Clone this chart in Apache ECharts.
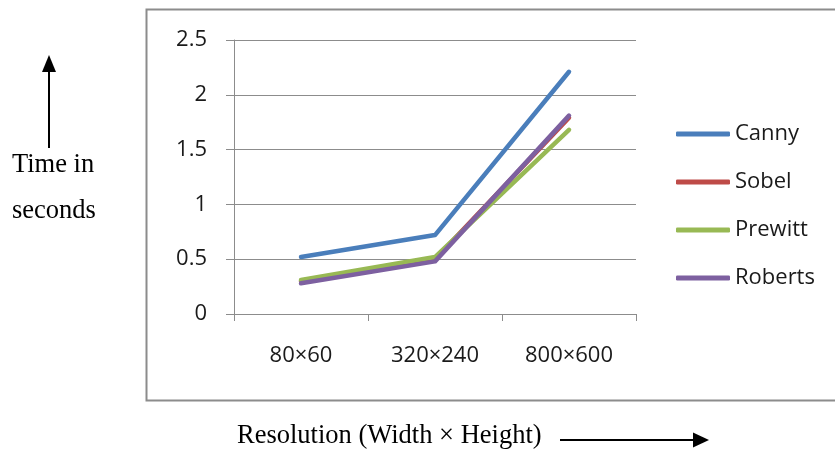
<!DOCTYPE html>
<html>
<head>
<meta charset="utf-8">
<script src="https://cdn.jsdelivr.net/npm/echarts@6/dist/echarts.min.js"></script>
<style>
  html, body { margin: 0; padding: 0; background: #fff; }
  #chart { width: 835px; height: 453px; }
</style>
</head>
<body>
<div id="chart"></div>
<script>
// Processing time of edge detectors at three image resolutions
const categories = ['80×60', '320×240', '800×600'];
const canny   = [0.52, 0.72, 2.21];
const sobel   = [0.30, 0.50, 1.79];
const prewitt = [0.31, 0.52, 1.68];
const roberts = [0.28, 0.48, 1.81];
const yTicks  = [0, 0.5, 1, 1.5, 2, 2.5];

const seriesDefs = [
  { name: 'Canny',   data: canny,   color: '#4a7ebb' },
  { name: 'Sobel',   data: sobel,   color: '#be4b48' },
  { name: 'Prewitt', data: prewitt, color: '#98b954' },
  { name: 'Roberts', data: roberts, color: '#7d60a0' }
];

const labelFont = '"Open Sans", "Noto Sans", sans-serif';
const serif = '"Liberation Serif", "DejaVu Serif", serif';

const chart = echarts.init(document.getElementById('chart'), null, { renderer: 'canvas' });

chart.setOption({
  animation: false,
  backgroundColor: '#ffffff',
  grid: { left: 234, right: 199, top: 40, bottom: 139, containLabel: false },
  xAxis: {
    type: 'category',
    data: categories,
    boundaryGap: true,
    axisLine: { lineStyle: { color: '#8c8c8c', width: 1 } },
    axisTick: { show: true, length: 7, inside: false, lineStyle: { color: '#8c8c8c' } },
    axisLabel: { color: '#1a1a1a', fontFamily: labelFont, fontSize: 22, margin: 31 }
  },
  yAxis: {
    type: 'value',
    min: yTicks[0],
    max: yTicks[yTicks.length - 1],
    interval: 0.5,
    axisLine: { show: true, lineStyle: { color: '#8c8c8c', width: 1 } },
    axisTick: { show: true, length: 8, lineStyle: { color: '#8c8c8c' } },
    splitLine: { show: true, lineStyle: { color: '#8c8c8c', width: 1 } },
    axisLabel: { color: '#1a1a1a', fontFamily: labelFont, fontSize: 22, margin: 27 }
  },
  legend: {
    orient: 'vertical',
    left: 671,
    top: 118,
    itemWidth: 54,
    itemHeight: 5,
    itemGap: 26,
    icon: 'roundRect',
    textStyle: { fontFamily: labelFont, fontSize: 22, color: '#1a1a1a' },
    data: seriesDefs.map(s => s.name)
  },
  series: seriesDefs.map(s => ({
    name: s.name,
    type: 'line',
    data: s.data,
    symbol: 'none',
    lineStyle: { color: s.color, width: 4.5, cap: 'round', join: 'round' },
    itemStyle: { color: s.color }
  })),
  graphic: [
    // outer chart-area frame
    {
      type: 'rect', silent: true,
      shape: { x: 146.5, y: 9.5, width: 700, height: 391 },
      style: { fill: 'none', stroke: '#8c8c8c', lineWidth: 2 }
    },
    // vertical arrow beside the y-axis caption
    {
      type: 'line', silent: true,
      shape: { x1: 49, y1: 148, x2: 49, y2: 68 },
      style: { stroke: '#000', lineWidth: 2 }
    },
    {
      type: 'polygon', silent: true,
      shape: { points: [[49, 55], [42, 72], [56, 72]] },
      style: { fill: '#000' }
    },
    {
      type: 'text', silent: true, left: 12, top: 152,
      style: { text: 'Time in', font: '26.5px ' + serif, fill: '#000' }
    },
    {
      type: 'text', silent: true, left: 12, top: 198,
      style: { text: 'seconds', font: '26.5px ' + serif, fill: '#000' }
    },
    // x-axis caption with arrow
    {
      type: 'text', silent: true, left: 237, top: 423,
      style: { text: 'Resolution (Width × Height)', font: '26.5px ' + serif, fill: '#000' }
    },
    {
      type: 'line', silent: true,
      shape: { x1: 560, y1: 440, x2: 695, y2: 440 },
      style: { stroke: '#000', lineWidth: 2 }
    },
    {
      type: 'polygon', silent: true,
      shape: { points: [[709, 440], [693, 432.5], [693, 447.5]] },
      style: { fill: '#000' }
    }
  ]
});
</script>
</body>
</html>
